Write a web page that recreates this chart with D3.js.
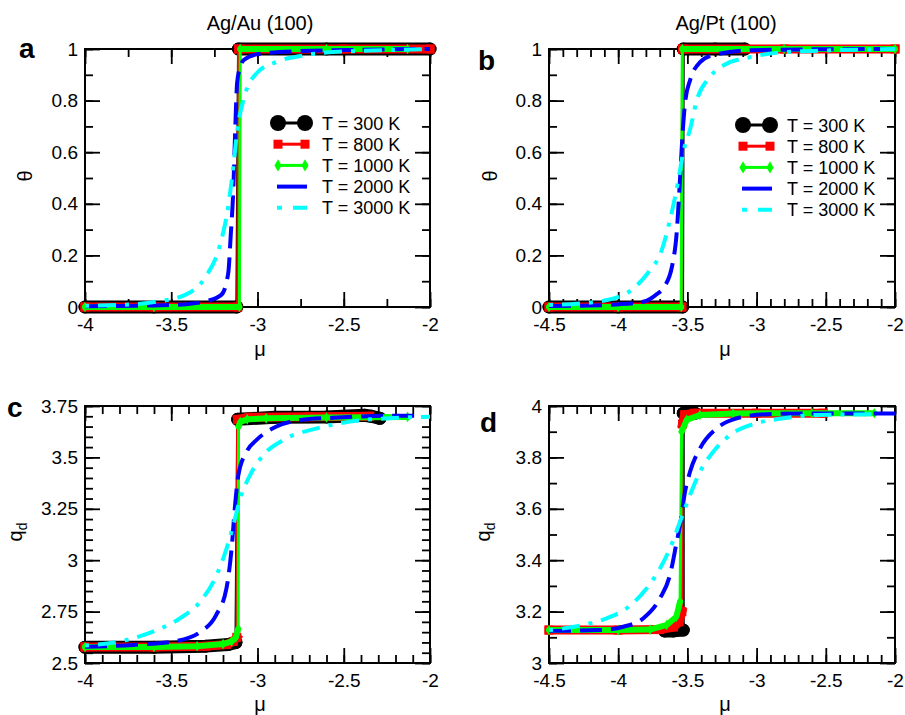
<!DOCTYPE html>
<html><head><meta charset="utf-8">
<script src="https://cdn.jsdelivr.net/npm/d3@7"></script>
<style>
body{margin:0;background:#fff}
svg{display:block}
text{font-family:"Liberation Sans",Arial,Helvetica,sans-serif;fill:#000}
</style>
</head><body>
<svg id="chart" width="905" height="715"></svg>
<script>
// ---------------- data ----------------
const seriesNames = ["T = 300 K", "T = 800 K", "T = 1000 K", "T = 2000 K", "T = 3000 K"];
const titles = ["Ag/Au (100)", "Ag/Pt (100)"];
const xTicksAu = [-4, -3.5, -3, -2.5, -2];
const xTicksPt = [-4.5, -4, -3.5, -3, -2.5, -2];
const yTicksTheta = [0, 0.2, 0.4, 0.6, 0.8, 1];
const yTicksQdAu = [2.5, 2.75, 3, 3.25, 3.5, 3.75];
const yTicksQdPt = [3, 3.2, 3.4, 3.6, 3.8, 4];

// panel a : theta, Ag/Au
const a300Lo = [[-4, 0], [-3.6, 0], [-3.12, 0]];
const a300Hi = [[-3.11, 1], [-2.6, 1], [-2.0, 1]];
const a800Lo = [[-4, 0], [-3.6, 0], [-3.115, 0]];
const a800Hi = [[-3.11, 1], [-2.5, 1], [-2.0, 1]];
const a1000Lo = [[-4, 0], [-3.6, 0], [-3.105, 0]];
const a1000Hi = [[-3.1, 1], [-2.6, 1], [-2.13, 1]];
const a2000 = [[-4, 0.003], [-3.6, 0.006], [-3.4, 0.012], [-3.3, 0.022], [-3.21, 0.047], [-3.17, 0.13], [-3.155, 0.28], [-3.14, 0.46], [-3.13, 0.67], [-3.118, 0.87], [-3.1, 0.93], [-3.08, 0.957], [-3.0, 0.98], [-2.75, 0.992], [-2.4, 0.997], [-2.0, 1.0]];
const a3000 = [[-4, 0.005], [-3.8, 0.008], [-3.59, 0.02], [-3.41, 0.05], [-3.3, 0.118], [-3.22, 0.234], [-3.17, 0.389], [-3.14, 0.544], [-3.117, 0.686], [-3.082, 0.802], [-3.005, 0.906], [-2.89, 0.95], [-2.75, 0.973], [-2.56, 0.988], [-2.17, 0.997], [-2.0, 1.0]];

// panel b : theta, Ag/Pt
const b300Lo = [[-4.5, 0], [-4.0, 0], [-3.535, 0]];
const b300Hi = [[-3.53, 1], [-3.3, 1], [-3.085, 1]];
const b800Lo = [[-4.5, 0], [-4.0, 0], [-3.54, 0]];
const b800Hi = [[-3.535, 1], [-2.8, 1], [-2.0, 1]];
const b1000Lo = [[-4.5, 0], [-4.0, 0], [-3.545, 0]];
const b1000Hi = [[-3.537, 1], [-2.8, 1], [-2.0, 1]];
const b2000 = [[-4.5, 0.004], [-4.2, 0.006], [-4.01, 0.01], [-3.82, 0.02], [-3.72, 0.05], [-3.665, 0.08], [-3.61, 0.16], [-3.577, 0.29], [-3.555, 0.48], [-3.535, 0.67], [-3.515, 0.8], [-3.48, 0.88], [-3.41, 0.948], [-3.31, 0.977], [-3.05, 0.995], [-2.5, 0.999], [-2.0, 1.0]];
const b3000 = [[-4.5, 0.008], [-4.3, 0.013], [-4.08, 0.027], [-3.87, 0.081], [-3.76, 0.15], [-3.7, 0.2], [-3.626, 0.337], [-3.566, 0.49], [-3.53, 0.6], [-3.48, 0.69], [-3.433, 0.8], [-3.34, 0.89], [-3.22, 0.942], [-3.05, 0.968], [-2.8, 0.988], [-2.45, 0.995], [-2.0, 1.0]];

// panel c : q_d, Ag/Au
const c300Lo = [[-4, 2.577], [-3.6, 2.577], [-3.3, 2.582], [-3.17, 2.59], [-3.125, 2.6]];
const c300Hi = [[-3.115, 3.685], [-2.9, 3.695], [-2.6, 3.697], [-2.38, 3.705], [-2.34, 3.7], [-2.29, 3.69]];
const c800Lo = [[-4, 2.578], [-3.6, 2.578], [-3.3, 2.582], [-3.18, 2.59], [-3.14, 2.605], [-3.12, 2.625]];
const c800Hi = [[-3.115, 3.685], [-3.05, 3.695], [-2.7, 3.698], [-2.35, 3.7]];
const c1000Lo = [[-4, 2.578], [-3.6, 2.578], [-3.35, 2.582], [-3.2, 2.592], [-3.15, 2.605], [-3.125, 2.625], [-3.112, 2.665]];
const c1000Hi = [[-3.11, 3.65], [-3.1, 3.672], [-3.06, 3.685], [-2.95, 3.69], [-2.6, 3.694], [-2.13, 3.697]];
const c2000 = [[-4, 2.579], [-3.72, 2.588], [-3.47, 2.607], [-3.33, 2.652], [-3.24, 2.733], [-3.18, 2.863], [-3.15, 3.058], [-3.13, 3.268], [-3.111, 3.414], [-3.063, 3.528], [-3.005, 3.585], [-2.89, 3.65], [-2.75, 3.682], [-2.56, 3.693], [-2.17, 3.703], [-2.08, 3.703]];
const c3000 = [[-4, 2.585], [-3.76, 2.612], [-3.585, 2.66], [-3.45, 2.717], [-3.333, 2.798], [-3.237, 2.928], [-3.179, 3.058], [-3.14, 3.171], [-3.1, 3.301], [-3.043, 3.414], [-2.966, 3.512], [-2.85, 3.585], [-2.657, 3.641], [-2.464, 3.674], [-2.174, 3.693], [-2.0, 3.698]];

// panel d : q_d, Ag/Pt
const d300Lo = [[-3.665, 3.125], [-3.6, 3.125], [-3.53, 3.128]];
const d300Hi = [[-3.53, 3.972], [-3.48, 3.974], [-3.445, 3.972]];
const d800Lo = [[-4.5, 3.128], [-4.0, 3.128], [-3.7, 3.13], [-3.6, 3.14], [-3.56, 3.16], [-3.54, 3.2]];
const d800Hi = [[-3.535, 3.93], [-3.52, 3.966], [-3.45, 3.972], [-3.0, 3.972], [-2.52, 3.972]];
const d1000Lo = [[-4.5, 3.128], [-4.0, 3.128], [-3.77, 3.13], [-3.65, 3.148], [-3.58, 3.18], [-3.553, 3.239]];
const d1000Hi = [[-3.542, 3.9], [-3.505, 3.946], [-3.41, 3.965], [-3.17, 3.971], [-2.6, 3.972], [-2.15, 3.972]];
const d2000 = [[-4.5, 3.125], [-4.13, 3.128], [-3.963, 3.141], [-3.818, 3.174], [-3.698, 3.252], [-3.626, 3.342], [-3.577, 3.472], [-3.553, 3.537], [-3.517, 3.667], [-3.481, 3.744], [-3.409, 3.835], [-3.288, 3.913], [-3.144, 3.952], [-2.927, 3.968], [-2.566, 3.971], [-2.0, 3.971]];
const d3000 = [[-4.5, 3.128], [-4.252, 3.148], [-4.083, 3.174], [-3.939, 3.213], [-3.794, 3.291], [-3.698, 3.368], [-3.626, 3.446], [-3.553, 3.55], [-3.481, 3.654], [-3.409, 3.744], [-3.313, 3.822], [-3.192, 3.887], [-3.0, 3.933], [-2.807, 3.952], [-2.566, 3.965], [-2.11, 3.968]];

// ---------------- styles ----------------
const styles = [
  {color: "#000000", lw: 3, mk: "circle", band: 13},
  {color: "#ff0000", lw: 3, mk: "square", band: 9},
  {color: "#00ff00", lw: 3, mk: "diamond", band: 6},
  {color: "#0000ff", lw: 4, dash: "22,9"},
  {color: "#00ffff", lw: 4, dash: "4,9,18,9"}
];

const panels = [
  {box: [85, 49, 430, 307], xDom: [-4, -2], yDom: [0, 1], xTicks: xTicksAu, xMinor: 0.25, yTicks: yTicksTheta, yMinor: 0.1,
   yLab: "theta", yLabPos: [31.5, 176], xLabPos: [260, 356], title: titles[0], titlePos: [260, 30], letter: "a", letterPos: [19, 58],
   legend: [270, 123], series: [[a300Lo, a300Hi], [a800Lo, a800Hi], [a1000Lo, a1000Hi], [a2000], [a3000]]},
  {box: [549, 49, 895, 307], xDom: [-4.5, -2], yDom: [0, 1], xTicks: xTicksPt, xMinor: 0.1, yTicks: yTicksTheta, yMinor: 0.1,
   yLab: "theta", yLabPos: [496.5, 176], xLabPos: [725, 356], title: titles[1], titlePos: [726, 30], letter: "b", letterPos: [478, 70],
   legend: [735, 125], series: [[b300Lo, b300Hi], [b800Lo, b800Hi], [b1000Lo, b1000Hi], [b2000], [b3000]]},
  {box: [85, 406, 430, 663], xDom: [-4, -2], yDom: [2.5, 3.75], xTicks: xTicksAu, xMinor: 0.1, yTicks: yTicksQdAu, yMinor: 0.05,
   yLab: "qd", yLabPos: [22, 532], xLabPos: [260, 711], letter: "c", letterPos: [7, 417],
   series: [[c300Lo, c300Hi], [c800Lo, c800Hi], [c1000Lo, c1000Hi], [c2000], [c3000]]},
  {box: [549, 406, 895, 663], xDom: [-4.5, -2], yDom: [3, 4], xTicks: xTicksPt, xMinor: 0.1, yTicks: yTicksQdPt, yMinor: 0.1,
   yLab: "qd", yLabPos: [490, 532], xLabPos: [725, 711], letter: "d", letterPos: [480, 432],
   series: [[d300Lo, d300Hi], [d800Lo, d800Hi], [d1000Lo, d1000Hi], [d2000], [d3000]]}
];

const svg = d3.select("#chart");
const FONT = '"Liberation Sans",Arial,Helvetica,sans-serif';
const TICKFS = 19;

function steps(dom, step) {
  const n = Math.round((dom[1] - dom[0]) / step);
  return d3.range(n + 1).map(i => +(dom[0] + i * step).toFixed(6));
}

function styleAxis(sel) {
  sel.select(".domain").remove();
  sel.selectAll(".tick line").attr("stroke", "#000").attr("stroke-width", 1.8);
  sel.attr("font-size", TICKFS).attr("font-family", FONT);
  sel.selectAll(".tick text").attr("fill", "#000");
}

function drawMarker(g, st, px, py, size) {
  if (st.mk === "circle") {
    g.append("circle").attr("cx", px).attr("cy", py).attr("r", size / 2).attr("fill", st.color);
  } else if (st.mk === "square") {
    g.append("rect").attr("x", px - size / 2).attr("y", py - size / 2).attr("width", size).attr("height", size).attr("fill", st.color);
  } else if (st.mk === "diamond") {
    g.append("path").attr("d", d3.symbol(d3.symbolDiamond, size * size * 0.9)()).attr("transform", `translate(${px},${py})`).attr("fill", st.color);
  }
}

panels.forEach(p => {
  const [X0, Y0, X1, Y1] = p.box;
  const x = d3.scaleLinear().domain(p.xDom).range([X0, X1]);
  const y = d3.scaleLinear().domain(p.yDom).range([Y1, Y0]);
  const g = svg.append("g");

  // frame
  g.append("rect").attr("x", X0).attr("y", Y0).attr("width", X1 - X0).attr("height", Y1 - Y0)
    .attr("fill", "none").attr("stroke", "#000").attr("stroke-width", 2);

  const minX = steps(p.xDom, p.xMinor);
  const minY = steps(p.yDom, p.yMinor);
  const fmt = d => String(d);

  // bottom
  g.append("g").attr("transform", `translate(0,${Y1})`)
    .call(d3.axisBottom(x).tickValues(minX).tickSizeInner(-8).tickSizeOuter(0).tickFormat("")).call(styleAxis);
  g.append("g").attr("transform", `translate(0,${Y1})`)
    .call(d3.axisBottom(x).tickValues(p.xTicks).tickSizeInner(-15).tickSizeOuter(0).tickPadding(11).tickFormat(fmt)).call(styleAxis);
  // top
  g.append("g").attr("transform", `translate(0,${Y0})`)
    .call(d3.axisTop(x).tickValues(minX).tickSizeInner(-8).tickSizeOuter(0).tickFormat("")).call(styleAxis);
  g.append("g").attr("transform", `translate(0,${Y0})`)
    .call(d3.axisTop(x).tickValues(p.xTicks).tickSizeInner(-15).tickSizeOuter(0).tickFormat("")).call(styleAxis);
  // left
  g.append("g").attr("transform", `translate(${X0},0)`)
    .call(d3.axisLeft(y).tickValues(minY).tickSizeInner(-8).tickSizeOuter(0).tickFormat("")).call(styleAxis);
  g.append("g").attr("transform", `translate(${X0},0)`)
    .call(d3.axisLeft(y).tickValues(p.yTicks).tickSizeInner(-15).tickSizeOuter(0).tickPadding(7).tickFormat(fmt)).call(styleAxis);
  // right
  g.append("g").attr("transform", `translate(${X1},0)`)
    .call(d3.axisRight(y).tickValues(minY).tickSizeInner(-8).tickSizeOuter(0).tickFormat("")).call(styleAxis);
  g.append("g").attr("transform", `translate(${X1},0)`)
    .call(d3.axisRight(y).tickValues(p.yTicks).tickSizeInner(-15).tickSizeOuter(0).tickFormat("")).call(styleAxis);

  // series
  const lineLin = d3.line().x(d => x(d[0])).y(d => y(d[1]));
  const lineSmooth = d3.line().x(d => x(d[0])).y(d => y(d[1])).curve(d3.curveMonotoneX);
  p.series.forEach((parts, i) => {
    const st = styles[i];
    const sg = g.append("g");
    if (st.mk) {
      // dense marker band along each branch
      parts.forEach(part => {
        sg.append("path").attr("d", lineLin(part)).attr("fill", "none").attr("stroke", st.color)
          .attr("stroke-width", st.band)
          .attr("stroke-linecap", st.mk === "square" ? "square" : "round")
          .attr("stroke-linejoin", st.mk === "square" ? "miter" : "round");
      });
      const full = [].concat(...parts);
      sg.append("path").attr("d", lineLin(full)).attr("fill", "none").attr("stroke", st.color)
        .attr("stroke-width", st.lw);
      full.forEach(d => drawMarker(sg, st, x(d[0]), y(d[1]), st.band));
    } else {
      sg.append("path").attr("d", lineSmooth(parts[0])).attr("fill", "none").attr("stroke", st.color)
        .attr("stroke-width", st.lw).attr("stroke-dasharray", st.dash);
    }
  });

  // labels
  if (p.title) {
    g.append("text").attr("x", p.titlePos[0]).attr("y", p.titlePos[1]).attr("text-anchor", "middle")
      .attr("font-size", 20).text(p.title);
  }
  g.append("text").attr("x", p.letterPos[0]).attr("y", p.letterPos[1]).attr("font-size", 28)
    .attr("font-weight", "bold").text(p.letter);
  g.append("text").attr("x", p.xLabPos[0]).attr("y", p.xLabPos[1]).attr("text-anchor", "middle")
    .attr("font-size", 20).text("μ");
  const yl = g.append("text").attr("transform", `translate(${p.yLabPos[0]},${p.yLabPos[1]}) rotate(-90)`)
    .attr("text-anchor", "middle").attr("font-size", 20);
  if (p.yLab === "theta") {
    yl.text("θ");
  } else {
    yl.append("tspan").text("q");
    yl.append("tspan").attr("font-size", 14).attr("dy", 5).text("d");
  }

  // legend
  if (p.legend) {
    const [lx, ly] = p.legend;
    seriesNames.forEach((name, i) => {
      const st = styles[i];
      const cy = ly + i * 21.2;
      const lg = g.append("g");
      if (st.mk) {
        lg.append("line").attr("x1", lx + 8).attr("x2", lx + 35).attr("y1", cy).attr("y2", cy)
          .attr("stroke", st.color).attr("stroke-width", st.lw);
        const ms = st.mk === "circle" ? 16 : (st.mk === "square" ? 9 : 7);
        drawMarker(lg, st, lx + 8, cy, ms);
        drawMarker(lg, st, lx + 35, cy, ms);
      } else if (i === 3) {
        lg.append("line").attr("x1", lx + 7).attr("x2", lx + 37).attr("y1", cy).attr("y2", cy)
          .attr("stroke", st.color).attr("stroke-width", st.lw);
      } else {
        lg.append("line").attr("x1", lx + 7).attr("x2", lx + 37).attr("y1", cy).attr("y2", cy)
          .attr("stroke", st.color).attr("stroke-width", st.lw).attr("stroke-dasharray", "5,11,14");
      }
      lg.append("text").attr("x", lx + 52).attr("y", cy + 6.5).attr("font-size", 18).text(name);
    });
  }
});
</script>
</body></html>
